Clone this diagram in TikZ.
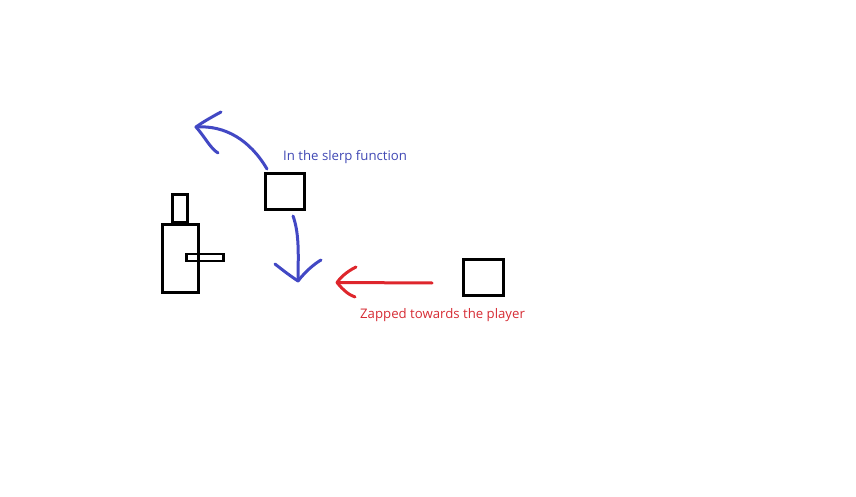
\documentclass[tikz,border=0pt]{standalone}
\usepackage{fontspec}
\setmainfont{Open Sans}
\definecolor{penblue}{RGB}{66,72,196}
\definecolor{penred}{RGB}{222,38,44}
\definecolor{txtblue}{RGB}{64,72,180}
\definecolor{txtred}{RGB}{214,44,52}
\begin{document}
\begin{tikzpicture}[x=1pt,y=-1pt,
  sq/.style={draw=black,line width=3pt,inner sep=0pt,outer sep=0pt},
  bluepen/.style={draw=penblue,line width=3pt,line cap=round,line join=round},
  redpen/.style={draw=penred,line width=3pt,line cap=round,line join=round},
  lbl/.style={font=\fontsize{13.2}{15}\selectfont,inner sep=0pt,anchor=west}]
\useasboundingbox (0,0) rectangle (856,497);
% player
\node[sq,minimum width=36pt,minimum height=68pt] (body) at (180,258) {};
\node[sq,minimum width=15pt,minimum height=27pt] (head) at (180,208.5) {};
\node[sq,line width=2.5pt,minimum width=37pt,minimum height=7pt] (gun) at (205,257.5) {};
% boxes
\node[sq,minimum width=39pt,minimum height=36pt] (box1) at (284.5,191.5) {};
\node[sq,minimum width=40pt,minimum height=36pt] (box2) at (483,277.5) {};
% labels
\node[lbl,text=txtblue] (slerp) at (283,157.2) {In the slerp function};
\node[lbl,text=txtred] (zap) at (360,315) {Zapped towards the player};
% blue curve up-left
\coordinate (u0) at (267,169);
\coordinate (utip) at (196,127);
\draw[bluepen] (u0) .. controls (250,140) and (225,125) .. (utip);
\draw[bluepen] (221,112) .. controls (208,119) and (200,124) .. (utip) .. controls (205,137) and (210,148) .. (218,153);
% blue curve down
\coordinate (d0) at (293,216);
\coordinate (dtip) at (298,281);
\draw[bluepen] (d0) .. controls (300,235) and (298,260) .. (dtip);
\draw[bluepen] (275,264) .. controls (285,272) and (292,277) .. (dtip) .. controls (305,272) and (314,264) .. (321,260);
% red arrow
\coordinate (r0) at (432,283);
\coordinate (rtip) at (337,282.5);
\draw[redpen] (r0) -- (rtip);
\draw[redpen] (356,267) .. controls (346,272) and (340,278) .. (rtip) .. controls (343,290) and (349,295) .. (355,297);
\end{tikzpicture}
\end{document}
